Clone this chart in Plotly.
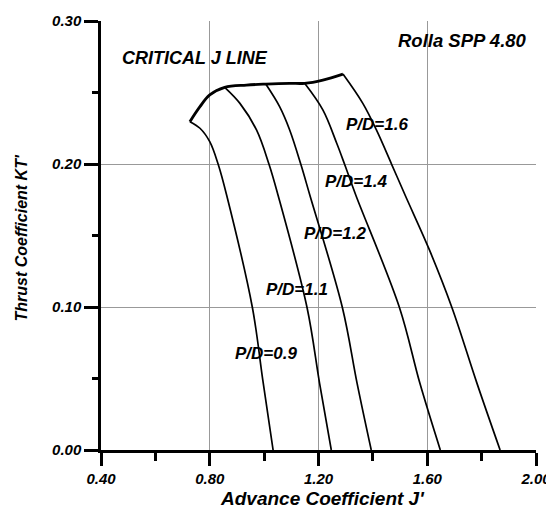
import plotly.graph_objects as go

# Critical J line
crit_j = [0.727, 0.764, 0.800, 0.855, 0.935, 1.006, 1.094, 1.149, 1.216, 1.290]
crit_kt = [0.2296, 0.2401, 0.2483, 0.2536, 0.2552, 0.2559, 0.2564, 0.2564, 0.2587, 0.2629]

# P/D curves (thrust coefficient vs advance coefficient)
pd09_j = [0.727, 0.764, 0.800, 0.831, 0.862, 0.957, 0.995, 1.033]
pd09_kt = [0.2296, 0.2250, 0.2156, 0.1998, 0.1783, 0.0995, 0.0490, 0.0]

pd11_j = [0.855, 0.911, 0.972, 1.018, 1.051, 1.158, 1.204, 1.247]
pd11_kt = [0.2536, 0.2424, 0.2238, 0.1998, 0.1783, 0.0995, 0.0466, 0.0]

pd12_j = [1.006, 1.057, 1.094, 1.135, 1.168, 1.288, 1.342, 1.394]
pd12_kt = [0.2559, 0.2401, 0.2238, 0.1998, 0.1783, 0.0995, 0.0466, 0.0]

pd14_j = [1.149, 1.216, 1.267, 1.296, 1.337, 1.498, 1.573, 1.648]
pd14_kt = [0.2564, 0.2378, 0.2145, 0.1998, 0.1783, 0.0995, 0.0466, 0.0]

pd16_j = [1.290, 1.363, 1.413, 1.469, 1.520, 1.608, 1.691, 1.783, 1.868]
pd16_kt = [0.2629, 0.2424, 0.2238, 0.1998, 0.1776, 0.1399, 0.0995, 0.0466, 0.0]

pd_labels = ["P/D=0.9", "P/D=1.1", "P/D=1.2", "P/D=1.4", "P/D=1.6"]
label_j = [1.008, 1.122, 1.260, 1.339, 1.416]
label_kt = [0.0676, 0.1119, 0.1515, 0.1876, 0.2273]

x_ticks = [0.4, 0.8, 1.2, 1.6, 2.0]
x_ticktext = ["0.40", "0.80", "1.20", "1.60", "2.00"]
x_minor = [0.6, 1.0, 1.4, 1.8]
y_ticks = [0.0, 0.1, 0.2, 0.3]
y_ticktext = ["0.00", "0.10", "0.20", "0.30"]
y_minor = [0.05, 0.15, 0.25]

BI = dict(family="Liberation Sans, Arial, sans-serif", color="black", weight="bold", style="italic")

fig = go.Figure()
for xs, ys in [(pd09_j, pd09_kt), (pd11_j, pd11_kt), (pd12_j, pd12_kt), (pd14_j, pd14_kt), (pd16_j, pd16_kt)]:
    fig.add_trace(go.Scatter(x=xs, y=ys, mode="lines",
                             line=dict(color="black", width=1.7, shape="spline", smoothing=1.0),
                             hoverinfo="skip", showlegend=False))
fig.add_trace(go.Scatter(x=crit_j, y=crit_kt, mode="lines",
                         line=dict(color="black", width=2.8, shape="spline", smoothing=1.0),
                         hoverinfo="skip", showlegend=False))

for t, xj, yk in zip(pd_labels, label_j, label_kt):
    fig.add_annotation(x=xj, y=yk, text=t, showarrow=False, font=dict(size=17, **BI),
                       xanchor="center", yanchor="middle")

fig.add_annotation(x=0.47, y=0.274, text="CRITICAL J LINE", showarrow=False, font=dict(size=18, **BI),
                   xanchor="left", yanchor="middle")
fig.add_annotation(x=1.975, y=0.2867, text="Rolla SPP 4.80", showarrow=False, font=dict(size=18.5, **BI),
                   xanchor="right", yanchor="middle")

# axis titles
fig.add_annotation(xref="paper", yref="paper", x=0.509, y=-0.114, text="Advance Coefficient J'",
                   showarrow=False, font=dict(size=19, **BI), xanchor="center", yanchor="middle")
fig.add_annotation(xref="paper", yref="paper", x=-0.182, y=0.495, text="Thrust Coefficient KT'",
                   showarrow=False, font=dict(size=16, **BI), textangle=-90, xanchor="center", yanchor="middle")

# page body has an 8px default margin, so the figure is sized/margined to land the plot area
# at the reference pixel positions within the 554x511 window
fig.update_layout(
    width=546, height=503,
    margin=dict(l=93, r=18, t=13, b=61, autoexpand=False),
    plot_bgcolor="white", paper_bgcolor="white",
    showlegend=False,
)
fig.update_xaxes(
    range=[0.4, 2.0], tickvals=x_ticks, ticktext=x_ticktext, automargin=False,
    showline=True, linecolor="black", linewidth=2.5,
    ticks="outside", ticklen=13, tickwidth=2.5, tickcolor="black",
    tickfont=dict(size=15, **BI),
    showgrid=True, gridcolor="#999999", gridwidth=1,
    zeroline=False,
    minor=dict(tickvals=x_minor, ticklen=8, tickwidth=2.5, tickcolor="black", ticks="outside", showgrid=False),
)
fig.update_yaxes(
    range=[0, 0.30], tickvals=y_ticks, ticktext=y_ticktext, automargin=False,
    showline=True, linecolor="black", linewidth=2.5,
    ticks="outside", ticklen=14, tickwidth=2.5, tickcolor="black",
    tickfont=dict(size=15, **BI),
    showgrid=True, gridcolor="#999999", gridwidth=1,
    zeroline=False,
    minor=dict(tickvals=y_minor, ticklen=6, tickwidth=2.5, tickcolor="black", ticks="outside", showgrid=False),
)

fig.write_html("out.html")
